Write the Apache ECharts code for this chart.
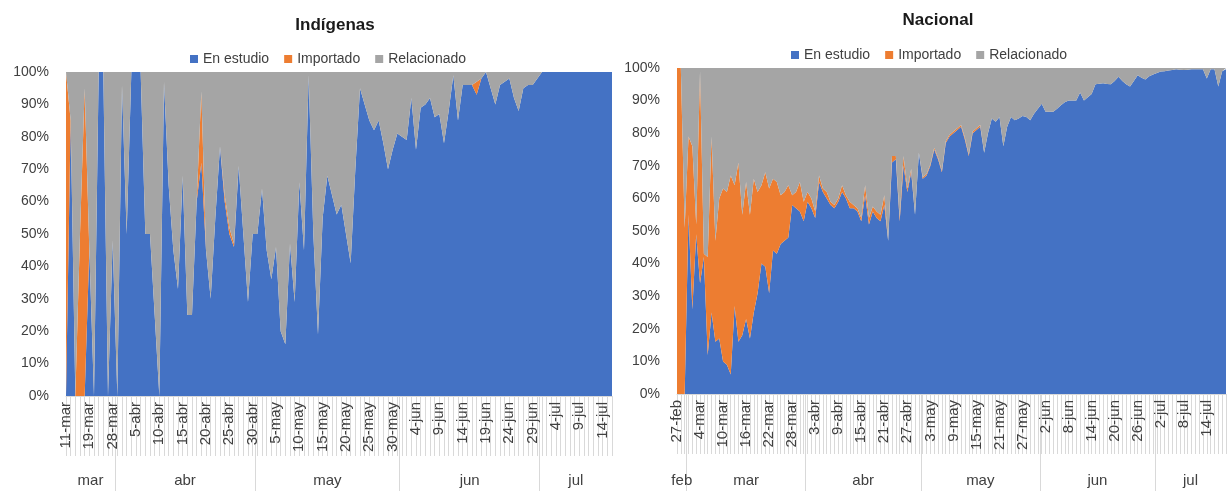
<!DOCTYPE html>
<html><head><meta charset="utf-8">
<script src="https://cdn.jsdelivr.net/npm/echarts@6/dist/echarts.min.js"></script>
<style>html,body{margin:0;padding:0;background:#fff}#c{width:1227px;height:491px}</style>
</head><body><div id="c"></div>
<script>
// ---------- categories ----------
const MONTH_NAMES = {2:'feb',3:'mar',4:'abr',5:'may',6:'jun',7:'jul'};
const MONTH_DAYS = {2:29,3:31,4:30,5:31,6:30,7:31}; // 2020
function dayRange(m1,d1,m2,d2){
  const out=[]; let m=m1, d=d1;
  while(m<m2 || (m===m2 && d<=d2)){ out.push(d+'-'+MONTH_NAMES[m]); d++; if(d>MONTH_DAYS[m]){d=1;m++;} }
  return out;
}
const indigenasFechas = ['11-mar','13-mar','14-mar','16-mar','17-mar','19-mar','21-mar','23-mar','24-mar','26-mar','28-mar']
  .concat(dayRange(4,1,7,16));
const nacionalFechas = dayRange(2,27,7,19);

// ---------- Indígenas (%) ----------
const indEnEstudio = [0,85,0,0,0,45,0,100,100,0,48,0,96,50,100,100,100,50,50,25,0,97,65,45,33,68,25,25,60,72,45,30,55,77,60,50,46,71,50,29,50,50,64,45,36,46,20,16,47,29,66,45,99,50,19,55,68,62,56,59,50,41,70,95,90,85,82,85,78,70,76,81,80,79,92,76,89,90,92,86,87,78,88,99,85,96,96,96,93,98,100,95,90,96,97,98,92,88,95,96,96,98,100,100,100,100,100,100,100,100,100,100,100,100,100,100,100,100];
const indImportado = [100,0,0,50,95,0,0,0,0,0,0,0,0,0,0,0,0,0,0,0,0,0,0,0,0,0,0,0,0,22,0,0,0,0,2,2,1,0,0,0,0,0,0,0,0,0,0,0,0,0,0,0,0,0,0,0,0,0,0,0,0,0,0,0,0,0,0,0,0,0,0,0,0,0,0,0,0,0,0,0,0,0,0,0,0,0,0,0,4,0,0,0,0,0,0,0,0,0,0,0,0,0,0,0,0,0,0,0,0,0,0,0,0,0,0,0,0,0];
const indRelacionado = [0,15,100,50,5,55,100,0,0,100,52,100,4,50,0,0,0,50,50,75,100,3,35,55,67,32,75,75,40,6,55,70,45,23,38,48,53,29,50,71,50,50,36,55,64,54,80,84,53,71,34,55,1,50,81,45,32,38,44,41,50,59,30,5,10,15,18,15,22,30,24,19,20,21,8,24,11,10,8,14,13,22,12,1,15,4,4,4,3,2,0,5,10,4,3,2,8,12,5,4,4,2,0,0,0,0,0,0,0,0,0,0,0,0,0,0,0,0];

// ---------- Nacional (%) ----------
const nacEnEstudio = [0,0,0,55,26,49,34,42,12,25,16,17,10,9,6,27,16,18,23,17,25,31,40,39,31,44,43,46,47,48,58,57,56,53,59,57,54,65,62,60,58,57,59,62,60,57,57,56,53,61,52,56,54,53,58,47,71,72,53,70,62,68,55,74,66,67,70,75,72,68,77,79,80,81,82,78,73,80,81,82,74,80,84.5,83.5,85,76,82,85,84,84.5,85.3,85,84,86,87.5,89,86.6,86.6,86.6,87.5,88.6,89.5,90,90,90,92.5,90,91,92,95,95.2,95.3,95.1,95,96,97.3,96,95,94.3,96,97.8,97,96.5,97.5,98,98.5,98.9,99,99.2,99.4,99.6,99.5,99.4,99.5,99.6,99.6,99.6,99.6,96.8,99.6,99.6,94.3,99,99.6];
const nacImportado = [100,100,51,24,50,3,65,1,30,54,31,43,53,53,61,37,55,37,42,38,41,31,24,29,32,22,22,15,15,16,3,5,9,6,3,3,2,2,1,2,1,1,1,2,1,2,1,1,1,3,2,1.5,2,2,3,0,2,1,1,3,1,1,0,0,0.5,0.5,0.5,0.5,0.5,0.5,0.5,0.5,0.5,0.5,0.5,0.5,0.5,0.5,0.5,0.5,0,0,0,0,0,0,0,0,0,0,0,0,0,0,0,0,0,0,0,0,0,0,0,0,0,0,0,0,0,0,0,0,0,0,0,0,0,0,0,0,0,0,0,0,0,0,0,0,0,0,0,0,0,0,0,0,0,0,0,0,0,0,0,0];
const nacRelacionado = [0,0,49,21,24,48,1,57,58,21,53,40,37,38,33,36,29,45,35,45,34,38,36,32,37,34,35,39,38,36,39,38,35,41,38,40,44,33,37,38,41,42,40,36,39,41,42,43,46,36,46,42.5,44,45,39,53,27,27,46,27,37,31,45,26,33.5,32.5,29.5,24.5,27.5,31.5,22.5,20.5,19.5,18.5,17.5,21.5,26.5,19.5,18.5,17.5,26,20,15.5,16.5,15,24,18,15,16,15.5,14.7,15,16,14,12.5,11,13.4,13.4,13.4,12.5,11.4,10.5,10,10,10,7.5,10,9,8,5,4.8,4.7,4.9,5,4,2.7,4,5,5.7,4,2.2,3,3.5,2.5,2,1.5,1.1,1,0.8,0.6,0.4,0.5,0.6,0.5,0.4,0.4,0.4,0.4,3.2,0.4,0.4,5.7,1,0.4];

const SERIES_NAMES = ['En estudio','Importado','Relacionado'];

// ---------- styling ----------
const COLORS = ['#4472C4','#ED7D31','#A5A5A5'];
const FONT = "'Liberation Sans Narrow','Arial Narrow','Liberation Sans',Arial,sans-serif";
const TXT = '#404040';
const GRIDLINE = '#d9d9d9';

function monthGroups(cats){
  const groups=[];
  cats.forEach((c,i)=>{const m=c.split('-')[1];
    if(!groups.length||groups[groups.length-1].m!==m) groups.push({m,start:i,end:i}); else groups[groups.length-1].end=i;});
  const n=cats.length-1, bounds=[], mids=[], names={};
  groups.forEach((g,k)=>{
    const a = k===0?0:g.start-0.5, b = k===groups.length-1?n:g.end+0.5;
    if(k>0) bounds.push(a);
    const mid=(a+b)/2; mids.push(mid); names[mid.toFixed(2)]=g.m;
  });
  return {bounds,mids,names,n};
}

const panels = [
  {title:'Indígenas', cats:indigenasFechas, data:[indEnEstudio,indImportado,indRelacionado], labelEvery:4,
   grid:{left:66,right:615,top:72,bottom:95}, titlePos:{x:330,y:12}, legendPos:{x:185,y:47}, monthMargin:77, tickLen:95},
  {title:'Nacional', cats:nacionalFechas, data:[nacEnEstudio,nacImportado,nacRelacionado], labelEvery:5,
   grid:{left:677,right:1,top:68,bottom:97}, titlePos:{x:933,y:7}, legendPos:{x:786,y:43}, monthMargin:79, tickLen:97}
];

const option = {animation:false, backgroundColor:'#fff', title:[], legend:[], grid:[], xAxis:[], yAxis:[], series:[]};
panels.forEach((p,pi)=>{
  const mg = monthGroups(p.cats);
  option.title.push({text:p.title, left:p.titlePos.x, top:p.titlePos.y, textAlign:'center',
    textStyle:{fontFamily:FONT, fontWeight:'bold', fontSize:17, color:'#1a1a1a'}});
  option.legend.push({data:SERIES_NAMES, left:p.legendPos.x, top:p.legendPos.y, icon:'rect', itemWidth:8, itemHeight:8, itemGap:15,
    textStyle:{fontFamily:FONT, fontSize:14, color:TXT}, selectedMode:false});
  option.grid.push(Object.assign({containLabel:false}, p.grid));
  option.yAxis.push({type:'value', gridIndex:pi, min:0, max:100, interval:10,
    axisLabel:{formatter:'{value}%', fontFamily:FONT, fontSize:14, color:TXT, margin:17},
    axisLine:{show:false}, axisTick:{show:false}, splitLine:{show:false}});
  option.xAxis.push({type:'category', gridIndex:pi, data:p.cats, boundaryGap:false,
    axisLine:{show:true, lineStyle:{color:GRIDLINE}},
    axisTick:{show:true, interval:0, length:60, lineStyle:{color:GRIDLINE}},
    axisLabel:{interval:p.labelEvery, rotate:90, fontFamily:FONT, fontSize:15, color:TXT, margin:6}});
  option.xAxis.push({type:'value', gridIndex:pi, position:'bottom', min:0, max:mg.n,
    axisLine:{show:false}, splitLine:{show:false},
    axisTick:{show:true, customValues:mg.bounds, length:p.tickLen, lineStyle:{color:GRIDLINE}},
    axisLabel:{customValues:mg.mids, formatter:v=>mg.names[(+v).toFixed(2)]||'', fontFamily:FONT, fontSize:15, color:TXT, margin:p.monthMargin}});
  SERIES_NAMES.forEach((name,si)=>{
    option.series.push({name, type:'line', xAxisIndex:pi*2, yAxisIndex:pi, stack:'s'+pi, data:p.data[si],
      symbol:'none', showSymbol:false, lineStyle:{width:0}, itemStyle:{color:COLORS[si]},
      areaStyle:{color:COLORS[si], opacity:1}, emphasis:{disabled:true}, silent:true});
  });
});
const chart = echarts.init(document.getElementById('c'), null, {renderer:'canvas'});
chart.setOption(option);
</script></body></html>
